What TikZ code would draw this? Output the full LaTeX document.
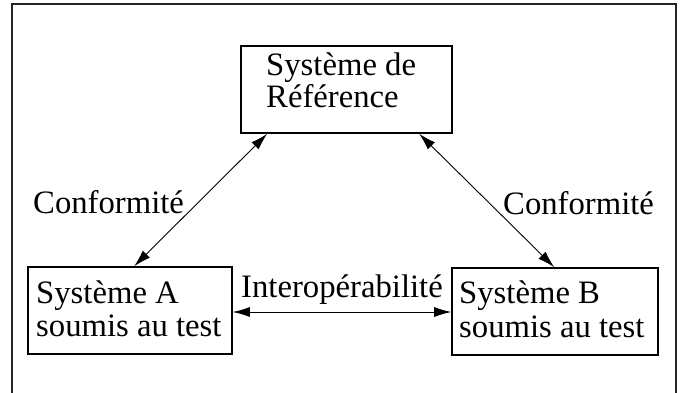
\documentclass[tikz,border=0pt]{standalone}
\usepackage{fontspec}
\setmainfont{Liberation Serif}
\usetikzlibrary{arrows.meta,calc}
\begin{document}
\begin{tikzpicture}[x=1pt,y=-1pt,
  sysbox/.style={draw=black, line width=1.6pt, rectangle, inner sep=0pt},
  txt/.style={anchor=base west, inner sep=0pt, font=\fontsize{32.7}{33}\selectfont, text=black},
  arr/.style={draw=black, line width=0.9pt, {Latex[length=17pt,width=10pt]}-{Latex[length=17pt,width=10pt]}}
]
\useasboundingbox (0,0) rectangle (681,392);
\begin{scope}
\clip (0,0) rectangle (681,392);
\draw[line width=1.8pt, black!85] (12,4) rectangle (676,420);
\end{scope}
% boxes
\node[sysbox, minimum width=211pt, minimum height=87pt] (ref) at (346.5,89.5) {};
\node[sysbox, minimum width=204pt, minimum height=87pt] (sa) at (130,310.5) {};
\node[sysbox, minimum width=206pt, minimum height=87pt] (sb) at (555,311.5) {};
% box texts
\node[txt] (ref1) at (266,75) {Système de};
\node[txt] (ref2) at (266,107) {Référence};
\node[txt] (sa1) at (36,303) {Système A};
\node[txt] (sa2) at (36,336) {soumis au test};
\node[txt] (sb1) at (459,303) {Système B};
\node[txt] (sb2) at (459,337) {soumis au test};
% connector labels
\node[txt] (lconf) at (33,213) {Conformité};
\node[txt] (rconf) at (503,214) {Conformité};
\node[txt] (inter) at (241,297) {Interopérabilité};
% connectors
\draw[arr] ($(ref.south west)+(27,0)$) -- ($(sa.north west)+(107,0)$);
\draw[arr] ($(ref.south west)+(179,0)$) -- ($(sb.north west)+(103,0)$);
\draw[arr] ($(sa.east)+(0,1.5)$) -- ($(sb.west)+(0,0.5)$);
\end{tikzpicture}
\end{document}
